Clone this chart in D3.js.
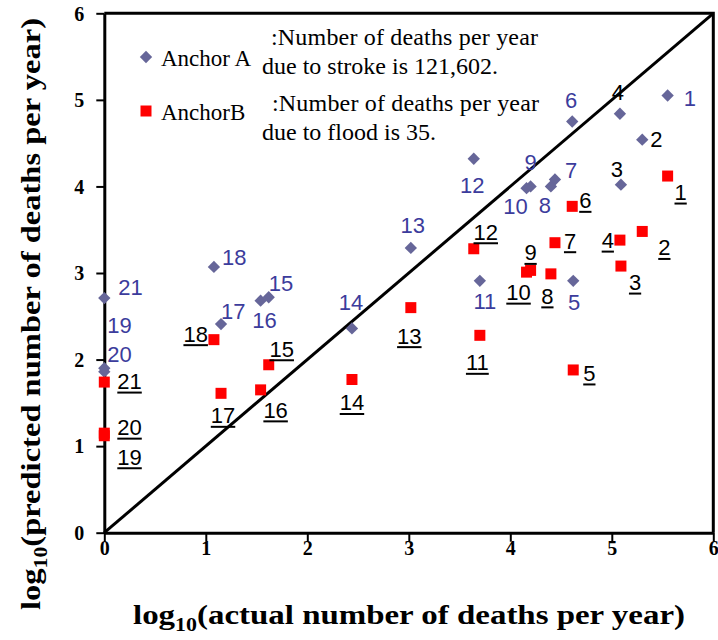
<!DOCTYPE html>
<html>
<head>
<meta charset="utf-8">
<script src="https://cdn.jsdelivr.net/npm/d3@7"></script>
<style>
  html, body { margin: 0; padding: 0; background: #fff; }
  svg { display: block; }
  .serif { font-family: "Liberation Serif", "DejaVu Serif", "Times New Roman", serif; }
  .sans { font-family: "Liberation Sans", Arial, sans-serif; }
</style>
</head>
<body>
<svg id="chart" width="718" height="640"></svg>
<script>
// Hazard numbers 1..21
const hazardIds = [1, 2, 3, 4, 5, 6, 7, 8, 9, 10, 11, 12, 13, 14, 15, 16, 17, 18, 19, 20, 21];
// log10(actual number of deaths per year), shared by both anchors
const actualLog = [5.55, 5.30, 5.09, 5.08, 4.62, 4.61, 4.44, 4.40, 4.20, 4.16, 3.70, 3.64, 3.02, 2.44, 1.62, 1.54, 1.15, 1.08, 0.00, 0.00, 0.00];
// log10(predicted number of deaths per year), Anchor A (stroke)
const predictedA = [5.05, 4.54, 4.02, 4.84, 2.91, 4.75, 4.08, 4.00, 4.00, 3.98, 2.91, 4.32, 3.29, 2.36, 2.72, 2.68, 2.41, 3.07, 1.86, 1.90, 2.71];
// log10(predicted number of deaths per year), Anchor B (flood)
const predictedB = [4.12, 3.48, 3.08, 3.38, 1.88, 3.77, 3.35, 2.99, 3.03, 3.01, 2.28, 3.28, 2.60, 1.77, 1.94, 1.65, 1.61, 2.23, 1.12, 1.15, 1.74];
const tickValues = [0, 1, 2, 3, 4, 5, 6];
const seriesNames = ["Anchor A", "AnchorB"];
const noteLines = [
  [":Number of deaths per year", "due to stroke is 121,602."],
  [":Number of deaths per year", "due to flood is 35."]
];
const xTitle = ["log", "10", "(actual number of deaths per year)"];
const yTitle = ["log", "10", "(predicted number of deaths per year)"];

// Label placement around each marker: [dx, dy, anchor]
const labelPosA = [
  [16, 10, "start"], [8, 7, "start"], [-4, -8, "middle"], [-2, -14, "middle"], [1, 29, "middle"],
  [-1, -14, "middle"], [10, -2, "start"], [-6, 27, "middle"], [0, -16, "middle"], [-11, 26, "middle"],
  [5, 28, "middle"], [-1.5, 34, "middle"], [2, -15, "middle"], [-1, -18, "middle"], [0, -6, "start"],
  [4, 27, "middle"], [0, -5, "start"], [8, -2, "start"], [3, -39, "start"], [3, -6, "start"],
  [14, -3, "start"]
];
const darkLabelsA = [2, 3, 4];
const labelPosB = [
  [13, 24, "middle"], [16, 24, "start"], [8, 24, "start"], [-6, 8, "end"], [10, 11, "start"],
  [7, 2, "start"], [9, 6, "start"], [-3.5, 30, "middle"], [0, -10, "middle"], [-8, 28, "middle"],
  [-2.5, 35, "middle"], [12, -9, "middle"], [-1.5, 36, "middle"], [0, 31, "middle"], [13, -8, "middle"],
  [15, 28, "middle"], [2, 30, "middle"], [-6, 2, "end"], [13, 29, "start"], [13, 2, "start"],
  [13, 7, "start"]
];

const colorA = "#666699", labelBlue = "#3c3c9c", colorB = "#ff0000";

const svg = d3.select("#chart");
const plotLeft = 104.3, plotRight = 713.3, plotTop = 13.3, plotBottom = 532.7;

const x = d3.scaleLinear().domain([0, 6]).range([plotLeft, plotRight]);
const y = d3.scaleLinear().domain([0, 6]).range([plotBottom, plotTop]);

// Plot frame (top and right edges)
svg.append("path")
  .attr("d", `M${plotLeft},${plotTop}H${plotRight}V${plotBottom}`)
  .attr("fill", "none").attr("stroke", "#000").attr("stroke-width", 3);

// Axes
const xAxis = svg.append("g").attr("transform", `translate(0,${plotBottom})`)
  .call(d3.axisBottom(x).tickValues(tickValues).tickFormat(d3.format("d")).tickSizeInner(9).tickSizeOuter(0));
const yAxis = svg.append("g").attr("transform", `translate(${plotLeft},0)`)
  .call(d3.axisLeft(y).tickValues(tickValues).tickFormat(d3.format("d")).tickSizeInner(8).tickSizeOuter(0));
[xAxis, yAxis].forEach(g => {
  g.attr("font-family", null).attr("font-size", null);
  g.select(".domain").attr("stroke", "#000").attr("stroke-width", 3);
  g.selectAll(".tick line").attr("stroke", "#000").attr("stroke-width", 2);
  g.selectAll(".tick text").attr("fill", "#000").attr("class", "serif")
    .style("font-weight", "bold").style("font-size", "20px");
});
xAxis.selectAll(".tick text").attr("y", 8).attr("dy", "0.71em");
yAxis.selectAll(".tick text").attr("x", -20).attr("dy", "0.34em");

// 1:1 reference line
svg.append("line")
  .attr("x1", x(0)).attr("y1", y(0)).attr("x2", x(6)).attr("y2", y(6))
  .attr("stroke", "#000").attr("stroke-width", 3);

const diamond = d3.symbol().type(d3.symbolSquare).size(76);
const square = d3.symbol().type(d3.symbolSquare).size(121);

// Anchor A markers
svg.append("g").selectAll("path").data(hazardIds).join("path")
  .attr("d", diamond)
  .attr("transform", (d, i) => `translate(${x(actualLog[i])},${y(predictedA[i])}) rotate(45)`)
  .attr("fill", colorA);

// Anchor B markers
svg.append("g").selectAll("path").data(hazardIds).join("path")
  .attr("d", square)
  .attr("transform", (d, i) => `translate(${x(actualLog[i])},${y(predictedB[i])})`)
  .attr("fill", colorB);

// Anchor A labels
svg.append("g").selectAll("text").data(hazardIds).join("text")
  .attr("class", "sans")
  .attr("x", (d, i) => x(actualLog[i]) + labelPosA[i][0])
  .attr("y", (d, i) => y(predictedA[i]) + labelPosA[i][1])
  .attr("text-anchor", (d, i) => labelPosA[i][2])
  .attr("fill", d => darkLabelsA.includes(d) ? "#000" : labelBlue)
  .style("font-size", "22px")
  .text(d => d);

// Anchor B labels, underlined
const bLabels = svg.append("g").selectAll("g").data(hazardIds).join("g")
  .attr("transform", (d, i) => `translate(${x(actualLog[i]) + labelPosB[i][0]},${y(predictedB[i]) + labelPosB[i][1]})`);
bLabels.append("text")
  .attr("class", "sans")
  .attr("text-anchor", (d, i) => labelPosB[i][2])
  .attr("fill", "#000")
  .style("font-size", "22px")
  .text(d => d);
bLabels.each(function(d, i) {
  const g = d3.select(this);
  const w = g.select("text").node().getComputedTextLength();
  const a = labelPosB[i][2];
  const x0 = a === "start" ? 0 : a === "end" ? -w : -w / 2;
  g.append("line").attr("x1", x0).attr("x2", x0 + w).attr("y1", 3.5).attr("y2", 3.5)
    .attr("stroke", "#000").attr("stroke-width", 2);
});

// Legend
const legend = svg.append("g");
legend.append("path").attr("d", diamond).attr("transform", "translate(146,57) rotate(45)").attr("fill", colorA);
legend.append("path").attr("d", square).attr("transform", "translate(146,111)").attr("fill", colorB);
legend.selectAll("text").data(seriesNames).join("text")
  .attr("class", "serif")
  .attr("x", 161).attr("y", (d, i) => 66 + i * 54)
  .style("font-size", "23px")
  .text(d => d);

// Notes on the two anchors
noteLines.forEach((lines, k) => {
  const base = k === 0 ? 45 : 111;
  const t = svg.append("text").attr("class", "serif").style("font-size", "24px").attr("fill", "#000");
  t.append("tspan").attr("x", 271 + k).attr("y", base).attr("textLength", 267).text(lines[0]);
  t.append("tspan").attr("x", 262).attr("y", base + 29).text(lines[1]);
});

// Axis titles
function title(parts, attrs, len) {
  const t = svg.append("text").attr("class", "serif")
    .style("font-weight", "bold").style("font-size", "27px")
    .attr("text-anchor", "middle").attr("textLength", len).attr("lengthAdjust", "spacingAndGlyphs");
  Object.entries(attrs).forEach(([k, v]) => t.attr(k, v));
  t.append("tspan").text(parts[0]);
  t.append("tspan").attr("dy", 7).style("font-size", "18px").text(parts[1]);
  t.append("tspan").attr("dy", -7).text(parts[2]);
  return t;
}
title(xTitle, { x: 409, y: 624 }, 552);
title(yTitle, { transform: "translate(40,314) rotate(-90)", x: 0, y: 0 }, 592);
</script>
</body>
</html>
